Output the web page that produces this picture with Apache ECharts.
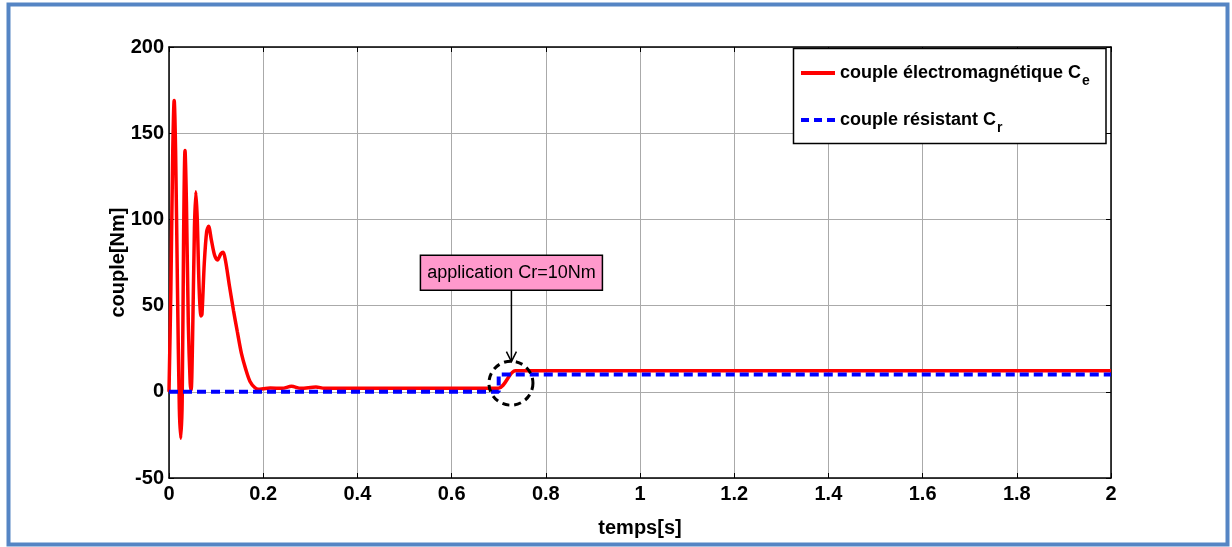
<!DOCTYPE html>
<html>
<head>
<meta charset="utf-8">
<script src="https://cdn.jsdelivr.net/npm/echarts@6/dist/echarts.min.js"></script>
<style>html,body{margin:0;padding:0;background:#fff;}#c{width:1232px;height:547px;}</style>
</head>
<body>
<div id="c"></div>
<script>
// ---- data ----
const xTicks = [0, 0.2, 0.4, 0.6, 0.8, 1, 1.2, 1.4, 1.6, 1.8, 2];
const yTicks = [-50, 0, 50, 100, 150, 200];
const ceTime = [0, 0.004, 0.008, 0.011, 0.014, 0.018, 0.022, 0.025, 0.028, 0.031, 0.034, 0.037, 0.041, 0.045, 0.047, 0.050, 0.054, 0.057, 0.060, 0.064, 0.068, 0.070, 0.075, 0.080, 0.084, 0.090, 0.097, 0.103, 0.110, 0.115, 0.120, 0.128, 0.137, 0.145, 0.154, 0.163, 0.172, 0.182, 0.190, 0.200, 0.215, 0.240, 0.260, 0.280, 0.312, 0.330, 0.400, 0.500, 0.600, 0.699, 0.735, 0.750, 1.0, 1.5, 2.0];
const ceValue = [0, 60, 140, 169, 140, 60, -10, -27, -5, 90, 140, 110, 40, 5, 1, 30, 95, 116, 100, 60, 44, 45, 75, 93, 96, 88, 79, 76.5, 80, 81, 76, 62, 47, 35, 22, 13, 6, 2.5, 1.5, 1.8, 2.2, 2, 3.2, 2, 2.8, 2, 2, 2, 2, 2, 12.2, 12.2, 12.2, 12.2, 12.2];
const crTime = [0, 0.7, 0.7, 2];
const crValue = [0, 0, 10, 10];
const seriesNames = ['Ce', 'Cr'];
const legendLabels = {Ce: ['couple électromagnétique C', 'e'], Cr: ['couple résistant C', 'r']};
const annotationText = 'application Cr=10Nm';
const annotationCircle = [0.726, 5];      // data coords of dashed circle centre
const annotationBox = [0.727, 69];        // data coords of label box centre
const annotationArrowEnd = [0.727, 17.5]; // data coords of arrow tip

const FF = "'Liberation Sans', Arial, sans-serif";
const zip = (a, b) => a.map((v, i) => [v, b[i]]);

const chart = echarts.init(document.getElementById('c'), null, {renderer: 'canvas'});
const tickLbl = {fontFamily: FF, fontWeight: 'bold', fontSize: 20, color: '#000'};
chart.setOption({
  backgroundColor: '#fff',
  animation: false,
  grid: {left: 169, top: 47, right: 121, bottom: 69, show: false},
  xAxis: [{
    type: 'value', min: xTicks[0], max: xTicks[xTicks.length - 1], interval: 0.2,
    name: 'temps[s]', nameLocation: 'middle', nameGap: 40,
    nameTextStyle: {fontFamily: FF, fontWeight: 'bold', fontSize: 20, color: '#000'},
    axisLine: {onZero: false, lineStyle: {color: '#000', width: 1.5}},
    axisTick: {inside: true, length: 5, lineStyle: {color: '#000'}},
    axisLabel: Object.assign({margin: 6}, tickLbl),
    splitLine: {show: true, lineStyle: {color: '#aaaaaa', width: 1}}
  }, {
    type: 'value', position: 'top', min: 0, max: 2, interval: 0.2,
    axisLine: {show: true, onZero: false, lineStyle: {color: '#000', width: 1.5}},
    axisTick: {inside: true, length: 5, lineStyle: {color: '#000'}},
    axisLabel: {show: false}, splitLine: {show: false}
  }],
  yAxis: [{
    type: 'value', min: yTicks[0], max: yTicks[yTicks.length - 1], interval: 50,
    name: 'couple[Nm]', nameLocation: 'middle', nameGap: 41, nameMoveOverlap: false,
    nameTextStyle: {fontFamily: FF, fontWeight: 'bold', fontSize: 20, color: '#000'},
    axisLine: {show: true, onZero: false, lineStyle: {color: '#000', width: 1.5}},
    axisTick: {show: true, inside: true, length: 5, lineStyle: {color: '#000'}},
    axisLabel: Object.assign({margin: 5}, tickLbl),
    splitLine: {show: true, lineStyle: {color: '#aaaaaa', width: 1}}
  }, {
    type: 'value', position: 'right', min: -50, max: 200, interval: 50,
    axisLine: {show: true, onZero: false, lineStyle: {color: '#000', width: 1.5}},
    axisTick: {show: true, inside: true, length: 5, lineStyle: {color: '#000'}},
    axisLabel: {show: false}, splitLine: {show: false}
  }],
  legend: {
    orient: 'vertical', left: 801, top: 64, itemGap: 23, z: 20,
    itemWidth: 34, itemHeight: 4, padding: 0,
    data: [
      {name: seriesNames[0], icon: 'path://M0,0h34v4h-34z', itemStyle: {color: '#ff0000'}},
      {name: seriesNames[1], icon: 'path://M0,0h8v4h-8zM13,0h8v4h-8zM26,0h8v4h-8z', itemStyle: {color: '#0000ff'}}
    ],
    formatter: function (name) {
      const l = legendLabels[name];
      return '{m|' + l[0] + '}{s|' + l[1] + '}';
    },
    textStyle: {
      rich: {
        m: {fontFamily: FF, fontWeight: 'bold', fontSize: 18, color: '#000', lineHeight: 30, verticalAlign: 'middle'},
        s: {fontFamily: FF, fontWeight: 'bold', fontSize: 14, color: '#000', lineHeight: 30, verticalAlign: 'bottom', padding: [0, 0, 0, 1]}
      }
    }
  },
  series: [{
    name: seriesNames[0], type: 'line', data: zip(ceTime, ceValue),
    symbol: 'none', smooth: 0.3, z: 2,
    lineStyle: {color: '#ff0000', width: 3.5}, itemStyle: {color: '#ff0000'}
  }, {
    name: seriesNames[1], type: 'line', data: zip(crTime, crValue),
    symbol: 'none', z: 3,
    lineStyle: {color: '#0000ff', width: 4, type: [9, 5]}, itemStyle: {color: '#0000ff'}
  }]
});

function px(p) { return chart.convertToPixel({gridIndex: 0}, p); }
const cc = px(annotationCircle), bc = px(annotationBox), ae = px(annotationArrowEnd);
const boxW = 182, boxH = 35;
chart.setOption({
  graphic: [
    {type: 'rect', shape: {x: 8.5, y: 4.5, width: 1219, height: 540}, style: {fill: 'none', stroke: '#5585c4', lineWidth: 4}, silent: true, z: 0},
    {type: 'rect', shape: {x: 793.5, y: 48.5, width: 312.5, height: 95}, style: {fill: '#fff', stroke: '#000', lineWidth: 1.5}, z: 1},
    {type: 'circle', shape: {cx: cc[0], cy: cc[1], r: 22}, style: {fill: 'none', stroke: '#000', lineWidth: 3, lineDash: [7, 5]}, z: 10},
    {type: 'line', shape: {x1: ae[0], y1: bc[1] + boxH / 2, x2: ae[0], y2: ae[1]}, style: {stroke: '#000', lineWidth: 1.5}, z: 10},
    {type: 'polyline', shape: {points: [[ae[0] - 5, ae[1] - 10], [ae[0], ae[1]], [ae[0] + 5, ae[1] - 10]]}, style: {fill: 'none', stroke: '#000', lineWidth: 1.5}, z: 10},
    {type: 'rect', shape: {x: bc[0] - boxW / 2, y: bc[1] - boxH / 2, width: boxW, height: boxH}, style: {fill: '#ff99cc', stroke: '#000', lineWidth: 1.5}, z: 10},
    {type: 'text', x: bc[0], y: bc[1], style: {text: annotationText, fontFamily: FF, fontSize: 18, fill: '#000', align: 'center', verticalAlign: 'middle'}, z: 11}
  ]
});
</script>
</body>
</html>
